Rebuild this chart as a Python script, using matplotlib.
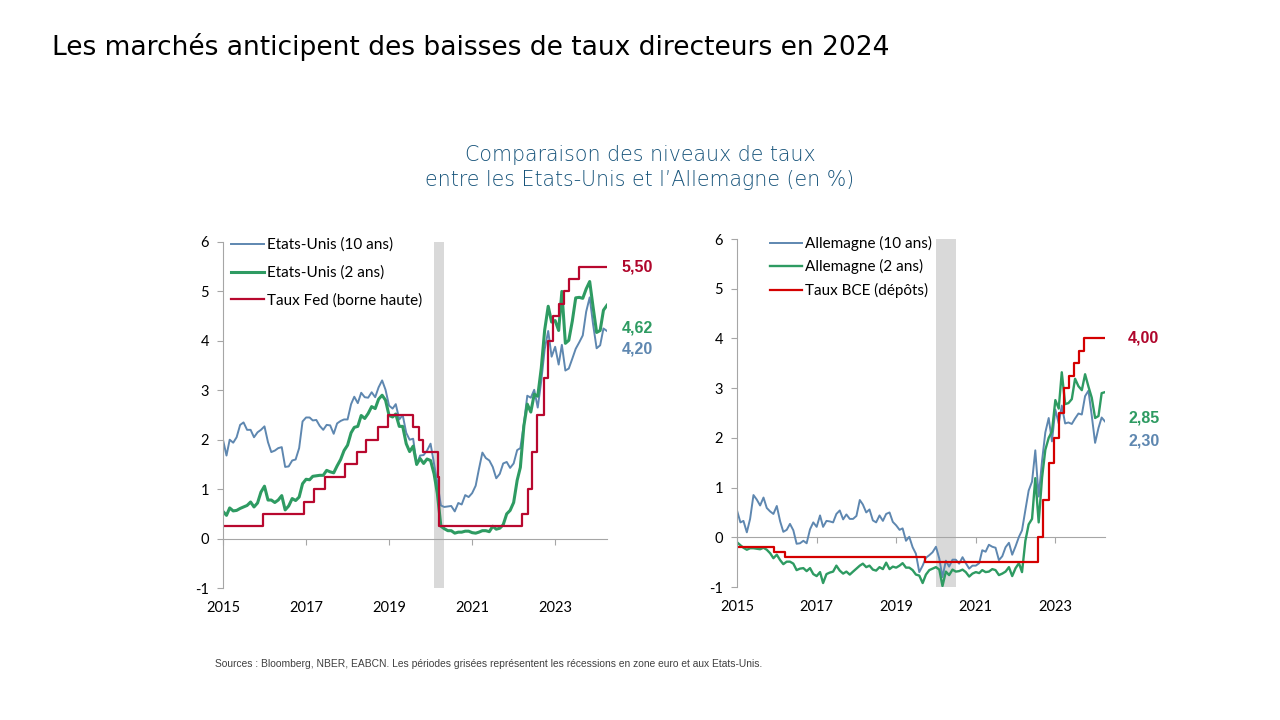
import pandas as pd
import matplotlib.pyplot as plt
import matplotlib.transforms as mtransforms

# monthly dates, Jan 2015 -> Apr 2024
dates = pd.date_range('2015-01-01', '2024-04-01', freq='MS')

us_10y = [
    2.00, 1.68, 2.00, 1.94, 2.05, 2.30, 2.35, 2.20, 2.20, 2.05, 2.15, 2.20,
    2.27, 1.95, 1.75, 1.78, 1.83, 1.85, 1.45, 1.46, 1.58, 1.60, 1.83, 2.37,
    2.45, 2.45, 2.39, 2.40, 2.28, 2.20, 2.30, 2.29, 2.12, 2.33, 2.38, 2.41,
    2.41, 2.72, 2.87, 2.74, 2.95, 2.86, 2.85, 2.96, 2.86, 3.06, 3.20, 3.01,
    2.69, 2.63, 2.72, 2.41, 2.50, 2.14, 2.00, 2.02, 1.50, 1.68, 1.69, 1.78,
    1.92, 1.51, 1.13, 0.67, 0.64, 0.65, 0.66, 0.55, 0.72, 0.69, 0.88, 0.84,
    0.92, 1.07, 1.40, 1.74, 1.63, 1.58, 1.45, 1.22, 1.31, 1.52, 1.55, 1.43,
    1.52, 1.79, 1.83, 2.32, 2.89, 2.85, 3.01, 2.65, 3.19, 3.83, 4.20, 3.68,
    3.88, 3.52, 3.92, 3.40, 3.44, 3.64, 3.84, 3.97, 4.11, 4.59, 4.88, 4.33,
    3.85, 3.91, 4.25, 4.20,
]

us_2y = [
    0.55, 0.47, 0.62, 0.56, 0.57, 0.61, 0.64, 0.67, 0.74, 0.64, 0.72, 0.94,
    1.06, 0.78, 0.78, 0.73, 0.78, 0.87, 0.58, 0.66, 0.81, 0.77, 0.84, 1.11,
    1.20, 1.19, 1.26, 1.27, 1.28, 1.28, 1.38, 1.35, 1.33, 1.47, 1.60, 1.78,
    1.89, 2.14, 2.25, 2.27, 2.49, 2.43, 2.53, 2.67, 2.63, 2.82, 2.90, 2.80,
    2.49, 2.46, 2.52, 2.27, 2.27, 1.92, 1.76, 1.87, 1.50, 1.62, 1.52, 1.61,
    1.58, 1.31, 0.91, 0.25, 0.20, 0.16, 0.16, 0.11, 0.13, 0.13, 0.15, 0.15,
    0.12, 0.11, 0.13, 0.16, 0.16, 0.14, 0.25, 0.19, 0.21, 0.28, 0.50, 0.57,
    0.73, 1.18, 1.44, 2.28, 2.72, 2.56, 2.92, 2.88, 3.45, 4.22, 4.70, 4.38,
    4.41, 4.21, 5.00, 3.95, 4.01, 4.40, 4.87, 4.88, 4.86, 5.05, 5.20, 4.68,
    4.17, 4.21, 4.62, 4.72,
]

de_10y = [
    0.54, 0.30, 0.33, 0.10, 0.37, 0.85, 0.76, 0.64, 0.80, 0.59, 0.52, 0.47,
    0.63, 0.32, 0.11, 0.15, 0.27, 0.14, -0.13, -0.12, -0.07, -0.12, 0.16, 0.30,
    0.21, 0.44, 0.21, 0.33, 0.32, 0.30, 0.47, 0.54, 0.36, 0.46, 0.37, 0.37,
    0.43, 0.75, 0.66, 0.50, 0.56, 0.34, 0.30, 0.44, 0.33, 0.47, 0.50, 0.31,
    0.24, 0.15, 0.18, -0.07, 0.01, -0.20, -0.33, -0.70, -0.57, -0.41, -0.36, -0.30,
    -0.19, -0.43, -0.80, -0.47, -0.59, -0.45, -0.45, -0.53, -0.40, -0.52, -0.63, -0.57,
    -0.57, -0.52, -0.26, -0.29, -0.15, -0.19, -0.21, -0.46, -0.38, -0.20, -0.11, -0.35,
    -0.18, 0.01, 0.14, 0.55, 0.94, 1.12, 1.75, 0.82, 1.54, 2.11, 2.40, 1.93,
    2.57, 2.29, 2.65, 2.29, 2.31, 2.28, 2.39, 2.49, 2.47, 2.84, 2.95, 2.45,
    1.90, 2.20, 2.41, 2.33,
]

de_2y = [
    -0.10, -0.16, -0.21, -0.25, -0.22, -0.22, -0.23, -0.24, -0.21, -0.25, -0.32, -0.42,
    -0.35, -0.46, -0.54, -0.49, -0.49, -0.53, -0.66, -0.63, -0.62, -0.68, -0.62, -0.74,
    -0.78, -0.70, -0.92, -0.74, -0.71, -0.69, -0.57, -0.67, -0.73, -0.69, -0.75, -0.69,
    -0.63, -0.57, -0.53, -0.60, -0.57, -0.65, -0.67, -0.60, -0.64, -0.51, -0.64, -0.59,
    -0.61, -0.57, -0.52, -0.61, -0.61, -0.66, -0.75, -0.77, -0.92, -0.75, -0.66, -0.63,
    -0.60, -0.65, -0.98, -0.69, -0.76, -0.65, -0.69, -0.68, -0.65, -0.70, -0.79, -0.73,
    -0.70, -0.72, -0.66, -0.70, -0.69, -0.64, -0.66, -0.76, -0.73, -0.69, -0.60, -0.78,
    -0.62, -0.52, -0.70, -0.07, 0.26, 0.37, 1.19, 0.30, 1.20, 1.76, 2.00, 2.13,
    2.76, 2.59, 3.32, 2.68, 2.70, 2.78, 3.19, 3.04, 2.96, 3.28, 3.03, 2.81,
    2.40, 2.44, 2.90, 2.92,
]

# policy rates: change dates and new levels
fed_dates = ['2015-01-01', '2015-12-16', '2016-12-14', '2017-03-15', '2017-06-14',
             '2017-12-13', '2018-03-21', '2018-06-13', '2018-09-26', '2018-12-19',
             '2019-07-31', '2019-09-18', '2019-10-30', '2020-03-03', '2020-03-15',
             '2022-03-16', '2022-05-04', '2022-06-15', '2022-07-27', '2022-09-21',
             '2022-11-02', '2022-12-14', '2023-02-01', '2023-03-22', '2023-05-03',
             '2023-07-26', '2024-04-01']
fed_rate = [0.25, 0.50, 0.75, 1.00, 1.25, 1.50, 1.75, 2.00, 2.25, 2.50,
            2.25, 2.00, 1.75, 1.25, 0.25, 0.50, 1.00, 1.75, 2.50, 3.25,
            4.00, 4.50, 4.75, 5.00, 5.25, 5.50, 5.50]

ecb_dates = ['2015-01-01', '2015-12-09', '2016-03-16', '2019-09-18', '2022-07-27',
             '2022-09-14', '2022-11-02', '2022-12-21', '2023-02-08', '2023-03-22',
             '2023-05-10', '2023-06-21', '2023-08-02', '2023-09-20', '2024-04-01']
ecb_rate = [-0.20, -0.30, -0.40, -0.50, 0.00, 0.75, 1.50, 2.00, 2.50, 3.00,
            3.25, 3.50, 3.75, 4.00, 4.00]

# recessions (NBER for US, EABCN for euro area)
us_recession = ['2020-02-01', '2020-04-30']
ez_recession = ['2020-01-01', '2020-07-01']

us_labels = ['Etats-Unis (10 ans)', 'Etats-Unis (2 ans)', 'Taux Fed (borne haute)']
de_labels = ['Allemagne (10 ans)', 'Allemagne (2 ans)', 'Taux BCE (dépôts)']
us_last = [5.50, 4.62, 4.20]
de_last = [4.00, 2.85, 2.30]
years = [2015, 2017, 2019, 2021, 2023]

BLUE = '#5E87B0'
GREEN = '#2E9B62'
RED_L = '#B8082E'
RED_R = '#D40000'
LAB_RED = '#B0062C'
GRAY = '#A6A6A6'
SHADE = '#D9D9D9'

plt.rcParams['font.family'] = ['Lato', 'DejaVu Sans']
plt.rcParams['axes.unicode_minus'] = False

fig = plt.figure(figsize=(12.8, 7.2), dpi=100)
fig.text(0.041, 0.9236, "Les marchés anticipent des baisses de taux directeurs en 2024",
         fontsize=19.1, va='baseline', ha='left', color='black', family='DejaVu Sans')
fig.text(0.5, 0.767, "Comparaison des niveaux de taux\nentre les Etats-Unis et l\u2019Allemagne (en %)",
         fontsize=14.8, ha='center', va='center', color='#16537A', weight='light',
         family=['DejaVu Sans'], linespacing=1.3)
fig.text(0.168, 0.078, "Sources : Bloomberg, NBER, EABCN. Les périodes grisées représentent "
         "les récessions en zone euro et aux Etats-Unis.",
         fontsize=7.4, color='#404040', va='center',
         family=['Liberation Sans', 'DejaVu Sans'])

ax1 = fig.add_axes([0.1742, 0.1833, 0.300, 0.4806])
ax2 = fig.add_axes([0.5758, 0.1847, 0.2875, 0.4833])


def style_axis(ax):
    ax.set_xlim(pd.Timestamp('2015-01-01'), pd.Timestamp('2024-04-01'))
    ax.set_ylim(-1, 6)
    ax.set_yticks(range(-1, 7))
    ticks = [pd.Timestamp(f'{y}-01-01') for y in years]
    ax.set_xticks(ticks)
    ax.set_xticklabels([str(y) for y in years])
    for s in ['top', 'right', 'bottom']:
        ax.spines[s].set_visible(False)
    ax.spines['left'].set_color(GRAY)
    ax.tick_params(axis='y', direction='out', length=4, color=GRAY, labelsize=10.5, pad=6)
    ax.tick_params(axis='x', length=0, labelsize=10.5, pad=9)
    sec = ax.secondary_xaxis(1 / 7)
    sec.set_xticks(ticks)
    sec.tick_params(axis='x', direction='out', length=4, color=GRAY, labelbottom=False,
                    labeltop=False)
    for s in sec.spines.values():
        s.set_color(GRAY)


def end_label(ax, xpos, y, value, color):
    tr = mtransforms.blended_transform_factory(ax.transAxes, ax.transData)
    ax.text(xpos, y, f'{value:.2f}'.replace('.', ','), transform=tr, color=color,
            fontsize=11.5, fontweight='bold', va='center',
            family=['Liberation Sans', 'DejaVu Sans'])


# left chart: United States
ax1.axvspan(pd.Timestamp(us_recession[0]), pd.Timestamp(us_recession[1]),
            color=SHADE, lw=0, zorder=0)
l1, = ax1.plot(dates, us_10y, color=BLUE, lw=1.4, label=us_labels[0])
l2, = ax1.plot(dates, us_2y, color=GREEN, lw=2.2, label=us_labels[1])
l3, = ax1.plot(pd.to_datetime(fed_dates), fed_rate, color=RED_L, lw=1.6,
               drawstyle='steps-post', label=us_labels[2])
style_axis(ax1)
ax1.legend(handles=[l1, l2, l3], loc='upper left', bbox_to_anchor=(0.022, 1.012),
           frameon=False, fontsize=11, handlelength=2.1, handletextpad=0.2,
           labelspacing=0.88, borderpad=0, borderaxespad=0)

end_label(ax1, 1.039, us_last[0], us_last[0], LAB_RED)
end_label(ax1, 1.039, 4.27, us_last[1], GREEN)
end_label(ax1, 1.039, 3.83, us_last[2], BLUE)

# right chart: Germany
ax2.axvspan(pd.Timestamp(ez_recession[0]), pd.Timestamp(ez_recession[1]),
            color=SHADE, lw=0, zorder=0)
r1, = ax2.plot(dates, de_10y, color=BLUE, lw=1.4, label=de_labels[0])
r2, = ax2.plot(dates, de_2y, color=GREEN, lw=1.7, label=de_labels[1])
r3, = ax2.plot(pd.to_datetime(ecb_dates), ecb_rate, color=RED_R, lw=1.6,
               drawstyle='steps-post', label=de_labels[2])
style_axis(ax2)
ax2.legend(handles=[r1, r2, r3], loc='upper left', bbox_to_anchor=(0.09, 1.009),
           frameon=False, fontsize=11, handlelength=2.1, handletextpad=0.2,
           labelspacing=0.55, borderpad=0, borderaxespad=0)

end_label(ax2, 1.0625, de_last[0], de_last[0], LAB_RED)
end_label(ax2, 1.0625, 2.39, de_last[1], GREEN)
end_label(ax2, 1.0625, 1.93, de_last[2], BLUE)

fig.savefig('out.png', dpi=100)
